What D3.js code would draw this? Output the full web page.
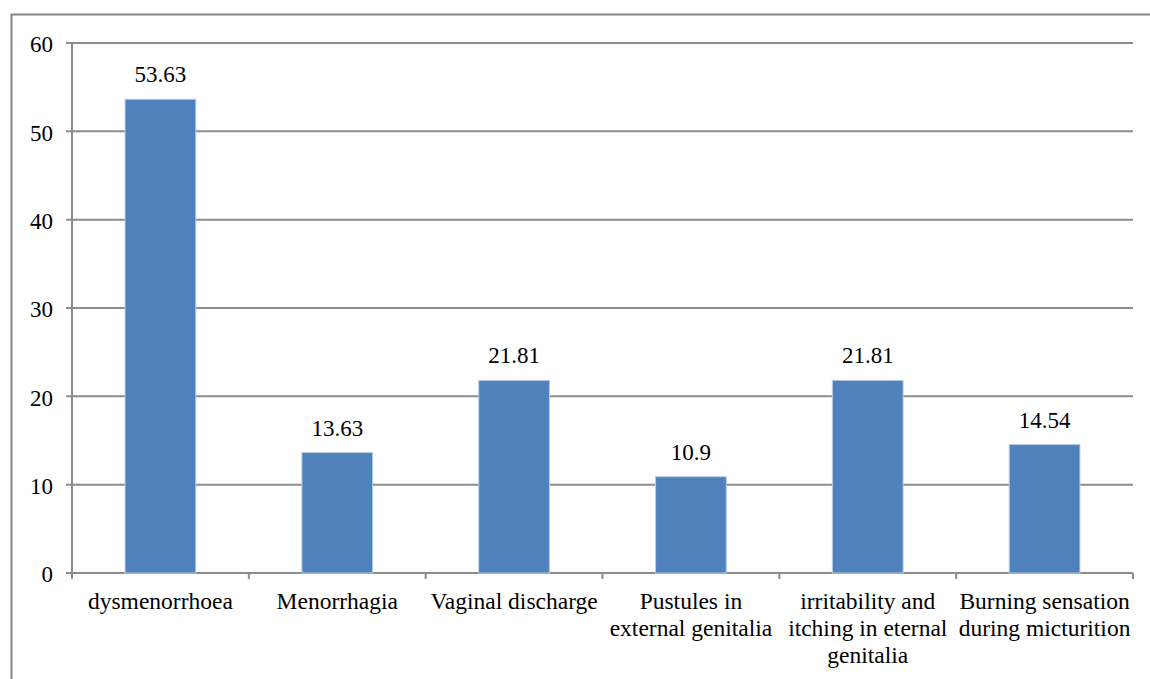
<!DOCTYPE html>
<html>
<head>
<meta charset="utf-8">
<script src="https://cdn.jsdelivr.net/npm/d3@7"></script>
<style>
	body { margin: 0; background: #fff; }
	text { font-family: 'Liberation Serif', 'Times New Roman', serif; fill: #000; }
</style>
</head>
<body>
<div id="chart"></div>
<script>
// data
const categories = [
	['dysmenorrhoea'],
	['Menorrhagia'],
	['Vaginal discharge'],
	['Pustules in', 'external genitalia'],
	['irritability and', 'itching in eternal', 'genitalia'],
	['Burning sensation', 'during micturition']
];
const values = [53.63, 13.63, 21.81, 10.9, 21.81, 14.54];
const valueLabels = ['53.63', '13.63', '21.81', '10.9', '21.81', '14.54'];
const yTicks = [0, 10, 20, 30, 40, 50, 60];

const W = 1150, H = 679;
const margin = { top: 43, right: 17, bottom: 106, left: 72 },
	width = W - margin.left - margin.right,
	height = H - margin.top - margin.bottom;

const root = d3.select('#chart').append('svg').attr('width', W).attr('height', H);

// outer frame
root.append('path')
	.attr('d', `M11.5,${H} V14.5 H${W}`)
	.attr('fill', 'none')
	.attr('stroke', '#868686')
	.attr('stroke-width', 2);

const svg = root.append('g').attr('transform', `translate(${margin.left},${margin.top})`);

const x = d3.scaleBand().domain(d3.range(categories.length)).range([0, width]).paddingInner(0.6).paddingOuter(0.3);
const y = d3.scaleLinear().domain([0, 60]).range([height, 0]);

// gridlines
svg.append('g').selectAll('line').data(yTicks).join('line')
	.attr('x1', -6).attr('x2', width)
	.attr('y1', (d) => y(d)).attr('y2', (d) => y(d))
	.attr('stroke', '#8c8c8c').attr('stroke-width', 2);

svg.append('g').selectAll('text').data(yTicks).join('text')
	.attr('x', -19).attr('y', (d) => y(d)).attr('dy', '0.4em')
	.attr('text-anchor', 'end').style('font-size', '23px')
	.text((d) => d);

// y axis line
svg.append('line').attr('x1', 0).attr('x2', 0).attr('y1', 0).attr('y2', height + 6)
	.attr('stroke', '#8c8c8c').attr('stroke-width', 2);

// category boundary ticks
const step = x.step();
svg.append('g').selectAll('line').data(d3.range(categories.length + 1)).join('line')
	.attr('x1', (d) => d * step).attr('x2', (d) => d * step)
	.attr('y1', height).attr('y2', height + 6)
	.attr('stroke', '#8c8c8c').attr('stroke-width', 2);

// bars
svg.append('g').selectAll('rect').data(values).join('rect')
	.attr('x', (d, i) => x(i)).attr('width', x.bandwidth())
	.attr('y', (d) => y(d)).attr('height', (d) => height - y(d))
	.attr('fill', '#4f81bd').attr('stroke', '#b9cde5').attr('stroke-width', 1);

// value labels
svg.append('g').selectAll('text').data(values).join('text')
	.attr('x', (d, i) => x(i) + x.bandwidth() / 2)
	.attr('y', (d) => y(d) - 17)
	.attr('text-anchor', 'middle').style('font-size', '23px')
	.text((d, i) => valueLabels[i]);

// category labels
const cat = svg.append('g').selectAll('text').data(categories).join('text')
	.attr('x', (d, i) => x(i) + x.bandwidth() / 2)
	.attr('y', height + 36)
	.attr('text-anchor', 'middle').style('font-size', '23.5px');
cat.selectAll('tspan').data((d) => d).join('tspan')
	.attr('x', function () { return this.parentNode.getAttribute('x'); })
	.attr('dy', (d, j) => (j === 0 ? 0 : 27))
	.text((d) => d);
</script>
</body>
</html>
